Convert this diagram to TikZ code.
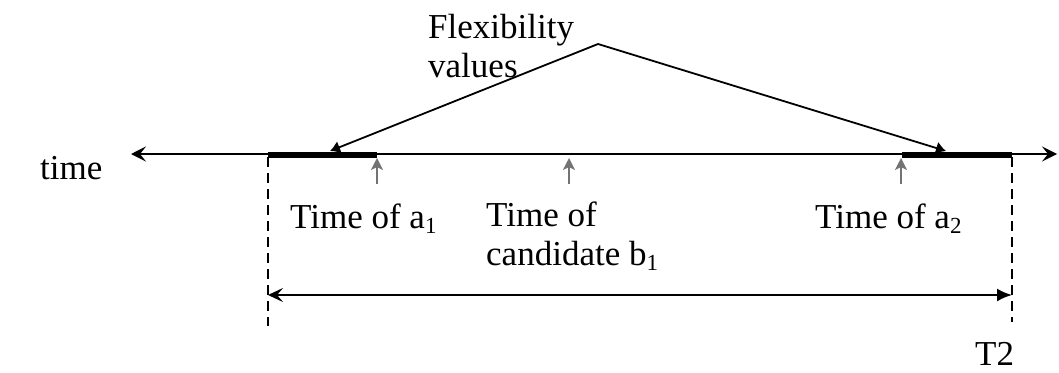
\documentclass[tikz,border=0pt]{standalone}
\usepackage{fontspec}
\setmainfont{Liberation Serif}
\usetikzlibrary{arrows.meta}
\newcommand{\lowsub}[1]{\raisebox{-0.3ex}{\fontsize{23}{23}\selectfont #1}}
\begin{document}
\begin{tikzpicture}[x=1pt,y=-1pt,
  lbl/.style={inner sep=0pt,anchor=west,font=\fontsize{35}{39}\selectfont,align=left},
  axis/.style={line width=2pt},
  bar/.style={line width=6pt},
  tick/.style={line width=1.8pt,draw=black!55,-{Stealth[length=12pt,width=12pt,inset=3pt]}},
  dashv/.style={line width=1.8pt,dash pattern=on 10pt off 6pt},
  pointer/.style={line width=1.8pt,-{Latex[length=10pt,width=13pt]}}]
\useasboundingbox (0,0) rectangle (1059,372);
% axis
\coordinate (axL) at (131,154);
\coordinate (axR) at (1057,154);
\draw[axis,{Stealth[length=15pt,width=15pt,inset=6pt]}-{Stealth[length=15pt,width=15pt,inset=6pt]}] (axL) -- (axR);
\node[lbl] (time) at (40,168) {time};
% thick bars
\coordinate (b1L) at (268,154.5);
\coordinate (b1R) at (377,154.5);
\coordinate (b2L) at (902,154.5);
\coordinate (b2R) at (1012,154.5);
\draw[bar] (b1L) -- (b1R);
\draw[bar] (b2L) -- (b2R);
% dashed verticals
\coordinate (d1t) at (268,157);
\coordinate (d1b) at (268,326);
\coordinate (d2t) at (1012,157);
\coordinate (d2b) at (1012,322);
\draw[dashv] (d1t) -- (d1b);
\draw[dashv] (d2t) -- (d2b);
% small up arrows
\coordinate (t1a) at (377,184); \coordinate (t1b) at (377,158);
\coordinate (t2a) at (569,184); \coordinate (t2b) at (569,158);
\coordinate (t3a) at (901,184); \coordinate (t3b) at (901,158);
\draw[tick] (t1a) -- (t1b);
\draw[tick] (t2a) -- (t2b);
\draw[tick] (t3a) -- (t3b);
% flexibility pointers
\coordinate (apex) at (598,44);
\coordinate (p1) at (330,151);
\coordinate (p2) at (946,151);
\draw[pointer] (apex) -- (p1);
\draw[pointer] (apex) -- (p2);
\node[lbl] (flex) at (428,46) {Flexibility\\values};
% labels
\node[lbl] (ta1) at (290,219) {Time of a\lowsub{1}};
\node[lbl] (tb1) at (486,236) {Time of\\candidate b\lowsub{1}};
\node[lbl] (ta2) at (815,219) {Time of a\lowsub{2}};
% span arrow
\coordinate (sL) at (268,295);
\coordinate (sR) at (1012,295);
\draw[line width=2pt,{Stealth[length=15pt,width=14pt,inset=6pt]}-{Latex[length=15pt,width=13pt]}] (sL) -- (sR);
\node[lbl,anchor=base west] (T2) at (975,365) {T2};
\end{tikzpicture}
\end{document}
